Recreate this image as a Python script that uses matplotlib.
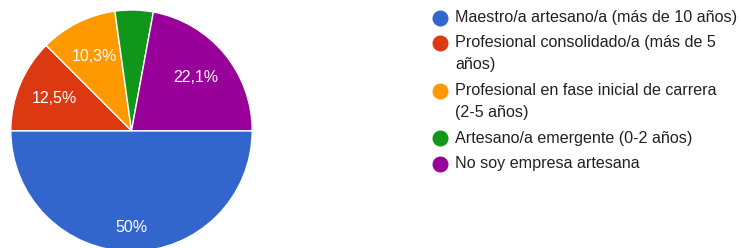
"""饼图复刻 - 手工艺从业者经验分布"""
import matplotlib
matplotlib.use('Agg')
import matplotlib.pyplot as plt
from matplotlib.lines import Line2D

plt.rcParams['font.family'] = ['Liberation Sans', 'DejaVu Sans']

# 数据
categories = [
    'Maestro/a artesano/a (más de 10 años)',
    'Profesional consolidado/a (más de 5\naños)',
    'Profesional en fase inicial de carrera\n(2-5 años)',
    'Artesano/a emergente (0-2 años)',
    'No soy empresa artesana',
]
percentages = [50, 12.5, 10.3, 5.1, 22.1]
colors = ['#3366cc', '#dc3912', '#ff9900', '#109618', '#990099']


def fmt_pct(p):
    # 小于 5.5% 的扇区不显示标签，使用逗号作小数点
    if p < 5.5:
        return ''
    s = f'{p:.1f}'
    if s.endswith('.0'):
        s = s[:-2]
    return s.replace('.', ',') + '%'


W, H = 741, 248
fig = plt.figure(figsize=(W / 100, H / 100), dpi=100)

# 饼图位置（像素）
cx, cy, r = 131.5, H - 130.7, 120.7
ax = fig.add_axes([(cx - r) / W, (cy - r) / H, 2 * r / W, 2 * r / H])

wedges, texts, autotexts = ax.pie(
    percentages,
    colors=colors,
    startangle=0,
    counterclock=False,
    autopct=fmt_pct,
    pctdistance=0.69,
    radius=1,
    wedgeprops=dict(edgecolor='white', linewidth=1),
    textprops=dict(color='white', fontsize=11.5),
    frame=True,
)
ax.set_xlim(-1, 1)
ax.set_ylim(-1, 1)
ax.axis('off')

# 最大扇区的标签放得更靠外
for t, p in zip(autotexts, percentages):
    if p >= 50:
        x, y = t.get_position()
        t.set_position((x * 0.8 / 0.69, y * 0.8 / 0.69))

# 手动绘制图例，圆点与首行对齐
marker_x, text_x = 440, 455
y = 17.5
for label, c in zip(categories, colors):
    fig.add_artist(Line2D([marker_x / W], [1 - y / H], marker='o', linestyle='none',
                          markersize=10.5, markerfacecolor=c, markeredgecolor=c,
                          transform=fig.transFigure))
    lines = label.split('\n')
    for i, line in enumerate(lines):
        fig.text(text_x / W, 1 - (y + i * 22) / H, line, fontsize=11.6,
                 color='#222222', va='center', ha='left')
    y += 25.5 + 22 * (len(lines) - 1)

fig.savefig('out.png', dpi=100, facecolor='white')
plt.close(fig)
